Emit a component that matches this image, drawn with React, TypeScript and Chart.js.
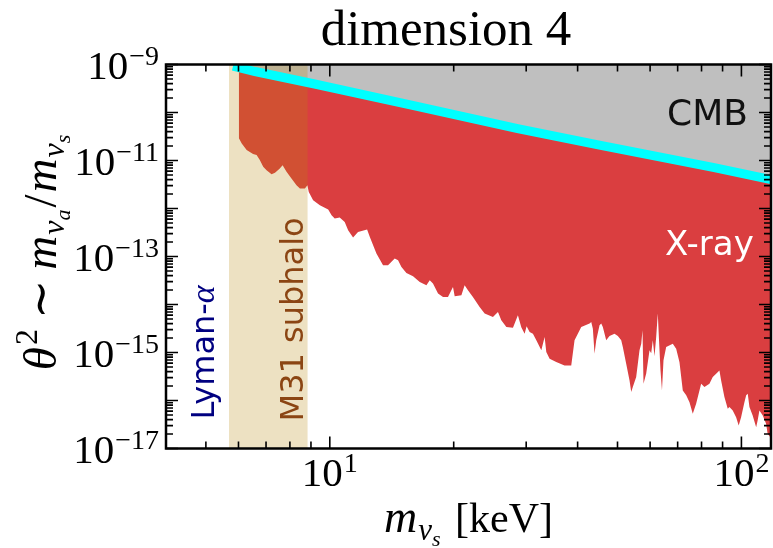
import React, { useEffect, useRef } from 'react';
import { Chart, registerables } from 'chart.js';

Chart.register(...registerables);

// ---- data ----
const xrayMass = [6.01,6.11,6.28,6.51,6.64,6.76,6.89,7.02,7.22,7.36,
  7.56,7.68,7.85,8.07,8.30,8.46,8.70,8.82,8.89,9.11,
  9.46,9.91,10.10,10.28,10.57,10.87,11.08,11.39,11.71,12.32,
  12.51,12.98,13.47,13.85,14.38,14.65,14.93,15.35,15.93,16.54,
  17.17,17.49,17.81,18.32,18.84,19.37,19.92,20.11,20.88,21.26,
  21.66,22.27,23.12,23.78,24.91,25.62,26.10,26.85,27.86,28.64,
  29.19,29.74,30.07,30.58,31.15,31.75,32.65,33.26,33.57,34.20,
  35.49,37.18,38.60,39.32,40.05,40.82,42.76,43.17,43.56,43.97,
  44.39,45.22,45.65,46.06,46.94,47.82,49.17,50.10,51.05,51.51,
  52.49,53.48,53.99,54.47,55.51,56.55,57.10,57.51,57.83,58.71,
  59.81,60.37,60.92,61.50,62.08,62.64,63.07,63.60,64.12,64.67,
  65.65,68.12,69.42,70.72,72.04,73.43,74.79,76.18,77.62,79.08,
  79.83,81.32,83.62,85.18,86.82,88.43,89.27,90.93,92.64,93.52,
  95.26,97.08,98.49,99.83,101.7,102.7,103.6,104.6,106.5,108.6,
  109.5,110.6,112.7,114.8,115.8,117.6,118];

const xrayMixing = [2.93e-11,2.27e-11,1.65e-11,1.36e-11,1.30e-11,1.02e-11,7.38e-12,6.30e-12,5.20e-12,5.53e-12,
  6.84e-12,8.01e-12,5.81e-12,4.23e-12,3.06e-12,2.62e-12,2.62e-12,3.06e-12,2.22e-12,1.49e-12,
  1.17e-12,9.54e-13,7.25e-13,6.19e-13,6.50e-13,5.26e-13,3.53e-13,2.49e-13,3.25e-13,3.65e-13,
  2.56e-13,1.15e-13,6.57e-14,6.57e-14,9.07e-14,8.36e-14,6.06e-14,4.54e-14,3.88e-14,2.95e-14,
  2.51e-14,3.20e-14,2.73e-14,1.69e-14,1.43e-14,1.43e-14,2.32e-14,1.48e-14,1.56e-14,2.51e-14,
  1.98e-14,1.43e-14,8.87e-15,6.46e-15,5.49e-15,6.97e-15,4.68e-15,3.39e-15,3.27e-15,5.95e-15,
  3.35e-15,2.47e-15,3.51e-15,2.67e-15,2.47e-15,1.79e-15,1.11e-15,2.10e-15,1.02e-15,7.44e-16,
  6.32e-16,5.39e-16,5.39e-16,1.79e-15,2.47e-15,3.39e-15,4.00e-15,4.32e-15,3.14e-15,9.46e-16,
  1.79e-15,3.68e-15,4.00e-15,3.39e-15,1.79e-15,2.22e-15,2.47e-15,2.22e-15,1.79e-15,1.30e-15,
  5.85e-16,2.62e-16,1.50e-16,1.90e-16,3.07e-16,1.11e-15,1.53e-15,2.90e-15,2.24e-16,3.67e-16,
  1.11e-15,9.60e-16,1.79e-15,8.31e-16,2.10e-15,6.46e-15,1.79e-15,4.24e-16,1.62e-16,6.86e-16,
  1.30e-15,1.53e-15,1.20e-15,6.26e-16,1.62e-16,1.28e-16,9.25e-17,5.30e-17,8.57e-17,1.62e-16,
  2.24e-16,1.90e-16,2.24e-16,3.07e-16,3.62e-16,4.24e-16,2.62e-16,1.18e-16,6.74e-17,7.28e-17,
  6.21e-17,4.50e-17,3.02e-17,4.50e-17,9.25e-17,1.28e-16,1.38e-16,7.28e-17,4.88e-17,2.78e-17,
  3.84e-17,6.21e-17,4.88e-17,3.28e-17,2.03e-17,1.72e-17,1.70e-17];

const cmbMass = [5.82, 6.58, 9.19, 16.4, 28.6, 45.2, 85.9, 118];
const cmbMixing = [9.3e-10, 7.15e-10, 3.92e-10, 1.33e-10, 4.62e-11, 2.09e-11, 7.1e-12, 4.0e-12];

const m31Band = [5.69, 8.84];

const xRange = [4, 118];
const yRange = [1e-17, 1e-9];

const xMajorTicks = [10, 100];
const xMinorTicks = [5, 6, 7, 8, 9, 20, 30, 40, 50, 60, 70, 80, 90];
const xLabelValues = [10, 100];
const xLabelExps = ['1', '2'];
const yDecadeExps = [-17, -16, -15, -14, -13, -12, -11, -10, -9];
const yLabelValues = [1e-9, 1e-11, 1e-13, 1e-15, 1e-17];
const yLabelExps = ['\u22129', '\u221211', '\u221213', '\u221215', '\u221217'];

// region labels: [mass, mixing]
const cmbLabelAt = [82.7, 5.5e-11];
const xrayLabelAt = [83.6, 1.06e-13];
const lymanLabelAt = [5.23, 4.0e-17];
const m31LabelAt = [8.6, 3.66e-17];

const SERIF = '"Liberation Serif", "DejaVu Serif", serif';
const SANS = '"DejaVu Sans", "Noto Sans", sans-serif';

type Part = { t: string; font: string; dy?: number; dx?: number };

function partsWidth(ctx: CanvasRenderingContext2D, parts: Part[]) {
  let w = 0;
  for (const p of parts) {
    ctx.font = p.font;
    w += ctx.measureText(p.t).width + (p.dx || 0);
  }
  return w;
}

function drawParts(ctx: CanvasRenderingContext2D, parts: Part[], x: number, y: number, align: 'left' | 'center' | 'right') {
  const w = partsWidth(ctx, parts);
  let cx = align === 'left' ? x : align === 'center' ? x - w / 2 : x - w;
  ctx.textAlign = 'left';
  ctx.textBaseline = 'alphabetic';
  for (const p of parts) {
    ctx.font = p.font;
    cx += p.dx || 0;
    ctx.fillText(p.t, cx, y + (p.dy || 0));
    cx += ctx.measureText(p.t).width;
  }
}

const decorPlugin = {
  id: 'decor',
  afterDatasetsDraw(chart: any) {
    const { ctx, chartArea: a, scales } = chart;
    const xs = scales.x;
    const ys = scales.y;
    ctx.save();

    // region labels
    ctx.fillStyle = '#111111';
    drawParts(ctx, [{ t: 'CMB', font: `36px ${SANS}` }], xs.getPixelForValue(cmbLabelAt[0]), ys.getPixelForValue(cmbLabelAt[1]), 'center');
    ctx.fillStyle = '#ffffff';
    drawParts(ctx, [{ t: 'X-ray', font: `34px ${SANS}` }], xs.getPixelForValue(xrayLabelAt[0]), ys.getPixelForValue(xrayLabelAt[1]), 'center');

    ctx.save();
    ctx.translate(xs.getPixelForValue(lymanLabelAt[0]), ys.getPixelForValue(lymanLabelAt[1]));
    ctx.rotate(-Math.PI / 2);
    ctx.fillStyle = '#000080';
    drawParts(ctx, [{ t: 'Lyman-', font: `32px ${SANS}` }, { t: '\u03b1', font: `italic 34px ${SERIF}` }], 0, 0, 'left');
    ctx.restore();

    ctx.save();
    ctx.translate(xs.getPixelForValue(m31LabelAt[0]), ys.getPixelForValue(m31LabelAt[1]));
    ctx.rotate(-Math.PI / 2);
    ctx.fillStyle = '#8b4513';
    drawParts(ctx, [{ t: 'M31 subhalo', font: `32px ${SANS}` }], 0, 0, 'left');
    ctx.restore();

    // frame
    ctx.strokeStyle = '#000';
    ctx.lineWidth = 2.5;
    ctx.strokeRect(a.left, a.top, a.right - a.left, a.bottom - a.top);

    // ticks
    ctx.lineWidth = 1.6;
    const majorLen = 12;
    const minorLen = 7;
    const xTick = (v: number, len: number) => {
      const px = xs.getPixelForValue(v);
      ctx.beginPath();
      ctx.moveTo(px, a.bottom);
      ctx.lineTo(px, a.bottom - len);
      ctx.moveTo(px, a.top);
      ctx.lineTo(px, a.top + len);
      ctx.stroke();
    };
    const yTick = (v: number, len: number) => {
      const py = ys.getPixelForValue(v);
      ctx.beginPath();
      ctx.moveTo(a.left, py);
      ctx.lineTo(a.left + len, py);
      ctx.moveTo(a.right, py);
      ctx.lineTo(a.right - len, py);
      ctx.stroke();
    };
    xMajorTicks.forEach((v) => xTick(v, majorLen));
    xMinorTicks.forEach((v) => xTick(v, minorLen));
    yDecadeExps.forEach((e) => {
      yTick(Math.pow(10, e), majorLen);
      if (e < -9) {
        for (let k = 2; k <= 9; k++) yTick(k * Math.pow(10, e), minorLen);
      }
    });

    // tick labels
    ctx.fillStyle = '#000';
    yLabelValues.forEach((v, i) => {
      const py = ys.getPixelForValue(v);
      drawParts(ctx, [
        { t: '10', font: `41px ${SERIF}` },
        { t: yLabelExps[i], font: `28px ${SERIF}`, dy: -14, dx: 1 },
      ], 159, py + 14, 'right');
    });
    xLabelValues.forEach((v, i) => {
      const px = xs.getPixelForValue(v);
      drawParts(ctx, [
        { t: '10', font: `41px ${SERIF}` },
        { t: xLabelExps[i], font: `28px ${SERIF}`, dy: -14, dx: 1 },
      ], px, 486, 'center');
    });

    // title
    drawParts(ctx, [{ t: 'dimension 4', font: `51px ${SERIF}` }], 446, 45, 'center');

    // x label
    drawParts(ctx, [
      { t: 'm', font: `italic 46px ${SERIF}` },
      { t: '\u03bd', font: `italic 31px ${SERIF}`, dy: 8, dx: 1 },
      { t: 's', font: `italic 22px ${SERIF}`, dy: 14 },
      { t: ' [keV]', font: `42px ${SERIF}`, dx: 4 },
    ], (a.left + a.right) / 2, 532, 'center');

    // y label
    ctx.save();
    ctx.translate(56, (a.top + a.bottom) / 2 - 4);
    ctx.rotate(-Math.PI / 2);
    drawParts(ctx, [
      { t: '\u03b8', font: `italic 47px ${SERIF}` },
      { t: '2', font: `32px ${SERIF}`, dy: -19, dx: 2 },
      { t: '\u223c', font: `47px ${SERIF}`, dx: 10 },
      { t: 'm', font: `italic 47px ${SERIF}`, dx: 10 },
      { t: '\u03bd', font: `italic 32px ${SERIF}`, dy: 8, dx: 1 },
      { t: 'a', font: `italic 22px ${SERIF}`, dy: 14 },
      { t: '/', font: `47px ${SERIF}`, dx: 2 },
      { t: 'm', font: `italic 47px ${SERIF}`, dx: 2 },
      { t: '\u03bd', font: `italic 32px ${SERIF}`, dy: 8, dx: 1 },
      { t: 's', font: `italic 22px ${SERIF}`, dy: 14 },
    ], 0, 0, 'center');
    ctx.restore();

    ctx.restore();
  },
};

export default function App() {
  const ref = useRef<HTMLCanvasElement | null>(null);
  useEffect(() => {
    document.body.style.margin = '0';
    const canvas = ref.current;
    if (!canvas) return;
    const pts = (xs: number[], ys: number[]) => xs.map((x, i) => ({ x, y: ys[i] }));
    const chart = new Chart(canvas, {
      type: 'line',
      data: {
        datasets: [
          {
            label: 'CMB',
            data: pts(cmbMass, cmbMixing),
            borderColor: 'rgba(0,0,0,0)',
            borderWidth: 0,
            backgroundColor: '#bfbfbf',
            fill: 'end',
            pointRadius: 0,
            order: 5,
            clip: 0,
          } as any,
          {
            label: 'X-ray',
            data: pts(xrayMass, xrayMixing),
            borderColor: 'rgba(0,0,0,0)',
            borderWidth: 0,
            backgroundColor: 'rgb(218,62,64)',
            fill: '-1',
            pointRadius: 0,
            order: 4,
            clip: 0,
          },
          {
            label: 'M31 subhalo',
            data: pts(m31Band, [yRange[1], yRange[1]]),
            borderColor: 'rgba(0,0,0,0)',
            borderWidth: 0,
            backgroundColor: 'rgba(184,134,11,0.25)',
            fill: 'start',
            pointRadius: 0,
            order: 3,
            clip: 0,
          },
          {
            label: 'CMB bound',
            data: pts(cmbMass, cmbMixing),
            borderColor: '#00ffff',
            borderWidth: 9,
            borderCapStyle: 'butt',
            fill: false,
            pointRadius: 0,
            order: 2,
            clip: 0,
          },
        ],
      },
      options: {
        animation: false,
        responsive: false,
        devicePixelRatio: 1,
        events: [],
        layout: { padding: { left: 166, right: 2, top: 64.5, bottom: 99.5 } },
        plugins: {
          legend: { display: false },
          tooltip: { enabled: false },
          title: { display: false },
        },
        elements: { line: { tension: 0 } },
        scales: {
          x: { type: 'logarithmic', min: xRange[0], max: xRange[1], display: false },
          y: { type: 'logarithmic', min: yRange[0], max: yRange[1], display: false },
        },
      },
      plugins: [decorPlugin],
    } as any);
    return () => chart.destroy();
  }, []);
  return (
    <div style={{ width: 773, height: 548, background: '#fff' }}>
      <canvas ref={ref} width={773} height={548} style={{ display: 'block' }} />
    </div>
  );
}
